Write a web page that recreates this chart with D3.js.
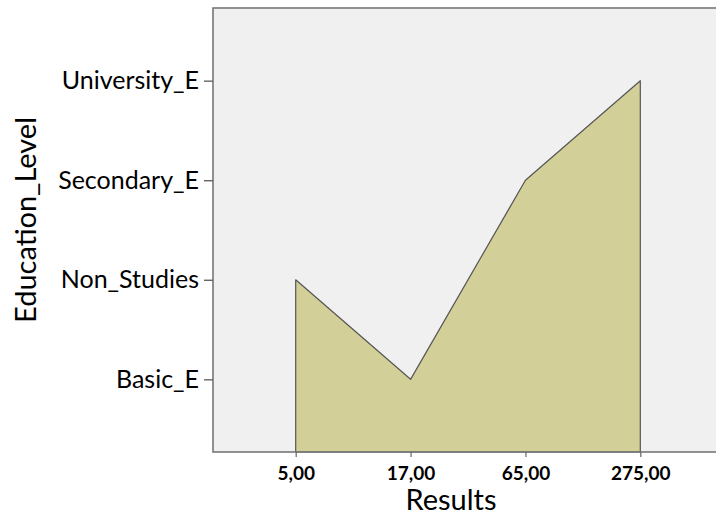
<!DOCTYPE html>
<html><head><meta charset="utf-8">
<script src="https://cdn.jsdelivr.net/npm/d3@7"></script>
<style>body{margin:0;background:#fff}svg{display:block}</style>
</head><body><svg id="c" width="716" height="515"></svg>
<script>
const results = ["5,00", "17,00", "65,00", "275,00"];
const levels = ["Basic_E", "Non_Studies", "Secondary_E", "University_E"];
const levelByResult = ["Non_Studies", "Basic_E", "Secondary_E", "University_E"];

const svg = d3.select("#c");
const L = 213, T = 8, R = 723, B = 452;
const x = d3.scalePoint().domain(results).range([L, R]).padding(0.72);
const y = d3.scalePoint().domain(levels).range([B, T]).padding(0.73);

svg.append("rect").attr("x", L).attr("y", T).attr("width", R - L).attr("height", B - T)
  .attr("fill", "#f0f0f0");

const data = results.map((r, i) => ({r, l: levelByResult[i]}));
const area = d3.area().x(d => x(d.r)).y0(B).y1(d => y(d.l));
svg.append("path").datum(data).attr("d", area)
  .attr("fill", "#d3cf98").attr("stroke", "#555").attr("stroke-width", 1.2)
  .attr("stroke-linejoin", "round");

svg.append("rect").attr("x", L).attr("y", T).attr("width", R - L).attr("height", B - T)
  .attr("fill", "none").attr("stroke", "#777").attr("stroke-width", 1.6);

const font = "Lato, 'Open Sans', sans-serif";
const ya = svg.append("g").attr("transform", `translate(${L},0)`)
  .call(d3.axisLeft(y).tickSize(9).tickPadding(5));
ya.select(".domain").remove();
ya.selectAll("line").attr("stroke", "#666").attr("stroke-width", 1.4);
ya.selectAll("text").attr("font-family", font).attr("font-size", 25).attr("fill", "#000");

const xa = svg.append("g").attr("transform", `translate(0,${B})`)
  .call(d3.axisBottom(x).tickSize(5).tickPadding(10));
xa.select(".domain").remove();
xa.selectAll("line").attr("stroke", "#666").attr("stroke-width", 1.2);
xa.selectAll("text").attr("font-family", font).attr("font-size", 19).attr("font-weight", "bold").attr("fill", "#000");

svg.append("text").attr("x", 451).attr("y", 510).attr("text-anchor", "middle")
  .attr("font-family", font).attr("font-size", 29).text("Results");
svg.append("text").attr("transform", "translate(36,220) rotate(-90)").attr("text-anchor", "middle")
  .attr("font-family", font).attr("font-size", 29).text("Education_Level");
</script></body></html>
